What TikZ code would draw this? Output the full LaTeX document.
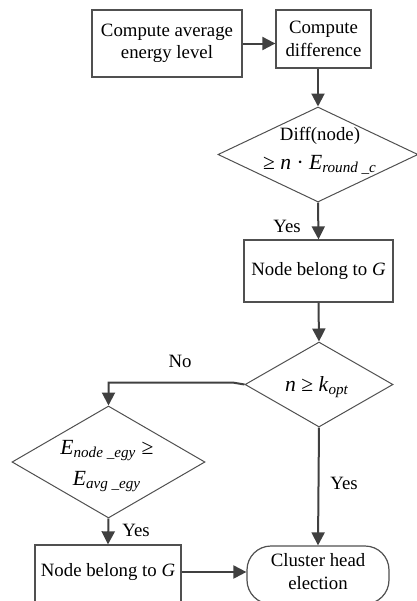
\documentclass[tikz,border=0pt]{standalone}
\usepackage{fontspec}
\setmainfont{Liberation Serif}
\usetikzlibrary{shapes.geometric,arrows.meta}
\definecolor{arrc}{HTML}{404040}
\definecolor{boxc}{HTML}{505050}
\newcommand{\fsz}{\fontsize{9.4}{11.2}\selectfont}
\newcommand{\msz}{\fontsize{10.8}{13}\selectfont}
\newcommand{\sbs}[1]{\textsubscript{\itshape #1}}
\tikzset{
  txt/.style={font=\fsz, inner sep=0pt, align=center, text=black},
  box/.style={draw=boxc, line width=0.65pt, fill=white, inner sep=0pt, align=center, font=\fsz},
  dia/.style={diamond, draw=boxc, line width=0.5pt, inner sep=0pt, fill=white},
  term/.style={draw=boxc, line width=0.6pt, rounded corners=12pt, fill=white, inner sep=0pt},
  arr/.style={draw=arrc, line width=1pt, -{Triangle[length=6.5pt,width=6.5pt]}},
}
\begin{document}
\begin{tikzpicture}[x=0.5pt,y=-0.5pt]
\useasboundingbox (0,0) rectangle (417,601);
\clip (0,0) rectangle (417,601);
% boxes
\node[box, minimum width=75pt, minimum height=33.5pt] (b1) at (167,43.5) {Compute average\\energy level};
\node[box, minimum width=47.5pt, minimum height=29pt] (b2) at (323.5,39) {Compute\\difference};
\node[dia, minimum width=100pt, minimum height=47.5pt] (d1) at (318,154.5) {};
\node[txt] (d1t) at (320,151) {Diff(node)\\[3pt]{\msz ≥ \textit{n} · \textit{E}\sbs{round \_c}}};
\node[box, minimum width=74.5pt, minimum height=31pt] (b3) at (318.5,271) {Node belong to \textit{G}};
\node[dia, minimum width=74pt, minimum height=42.5pt] (d2) at (319,384.5) {};
\node[txt] (d2t) at (317,387) {\msz\textit{n} ≥ \textit{k}\sbs{opt}};
\node[dia, minimum width=96.5pt, minimum height=56pt] (d3) at (108.5,462) {};
\node[txt] (d3t) at (107,466) {\msz\textit{E}\sbs{node \_egy} ≥\\[4pt]\msz\textit{E}\sbs{avg \_egy}};
\node[box, minimum width=73pt, minimum height=38pt] (b4) at (108,583) {};
\node[txt] (b4t) at (108,572) {Node belong to \textit{G}};
\node[term, minimum width=71pt, minimum height=29pt] (ct) at (318,575) {};
\node[txt] (ctt) at (318,571.5) {Cluster head\\election};
% connectors
\draw[arr] (b1.east) -- (b1.east -| b2.west);
\draw[arr] (d1.north |- b2.south) -- (d1.north);
\draw[arr] (d1.south) -- (b3.north);
\draw[arr] (b3.south) -- (d2.north);
\draw[arr] (d2.west) -- ++(-12,-2) -| (d3.north);
\draw[arr] (d2.south) -- (ct.north);
\draw[arr] (d3.south) -- (b4.north);
\draw[arr] (b4.east |- b4t.east) -- (b4t.east -| ct.west);
% labels
\node[txt] (y1) at (287,226) {Yes};
\node[txt] (no) at (180,361) {No};
\node[txt] (y2) at (344,483) {Yes};
\node[txt] (y3) at (136,530) {Yes};
\end{tikzpicture}
\end{document}
